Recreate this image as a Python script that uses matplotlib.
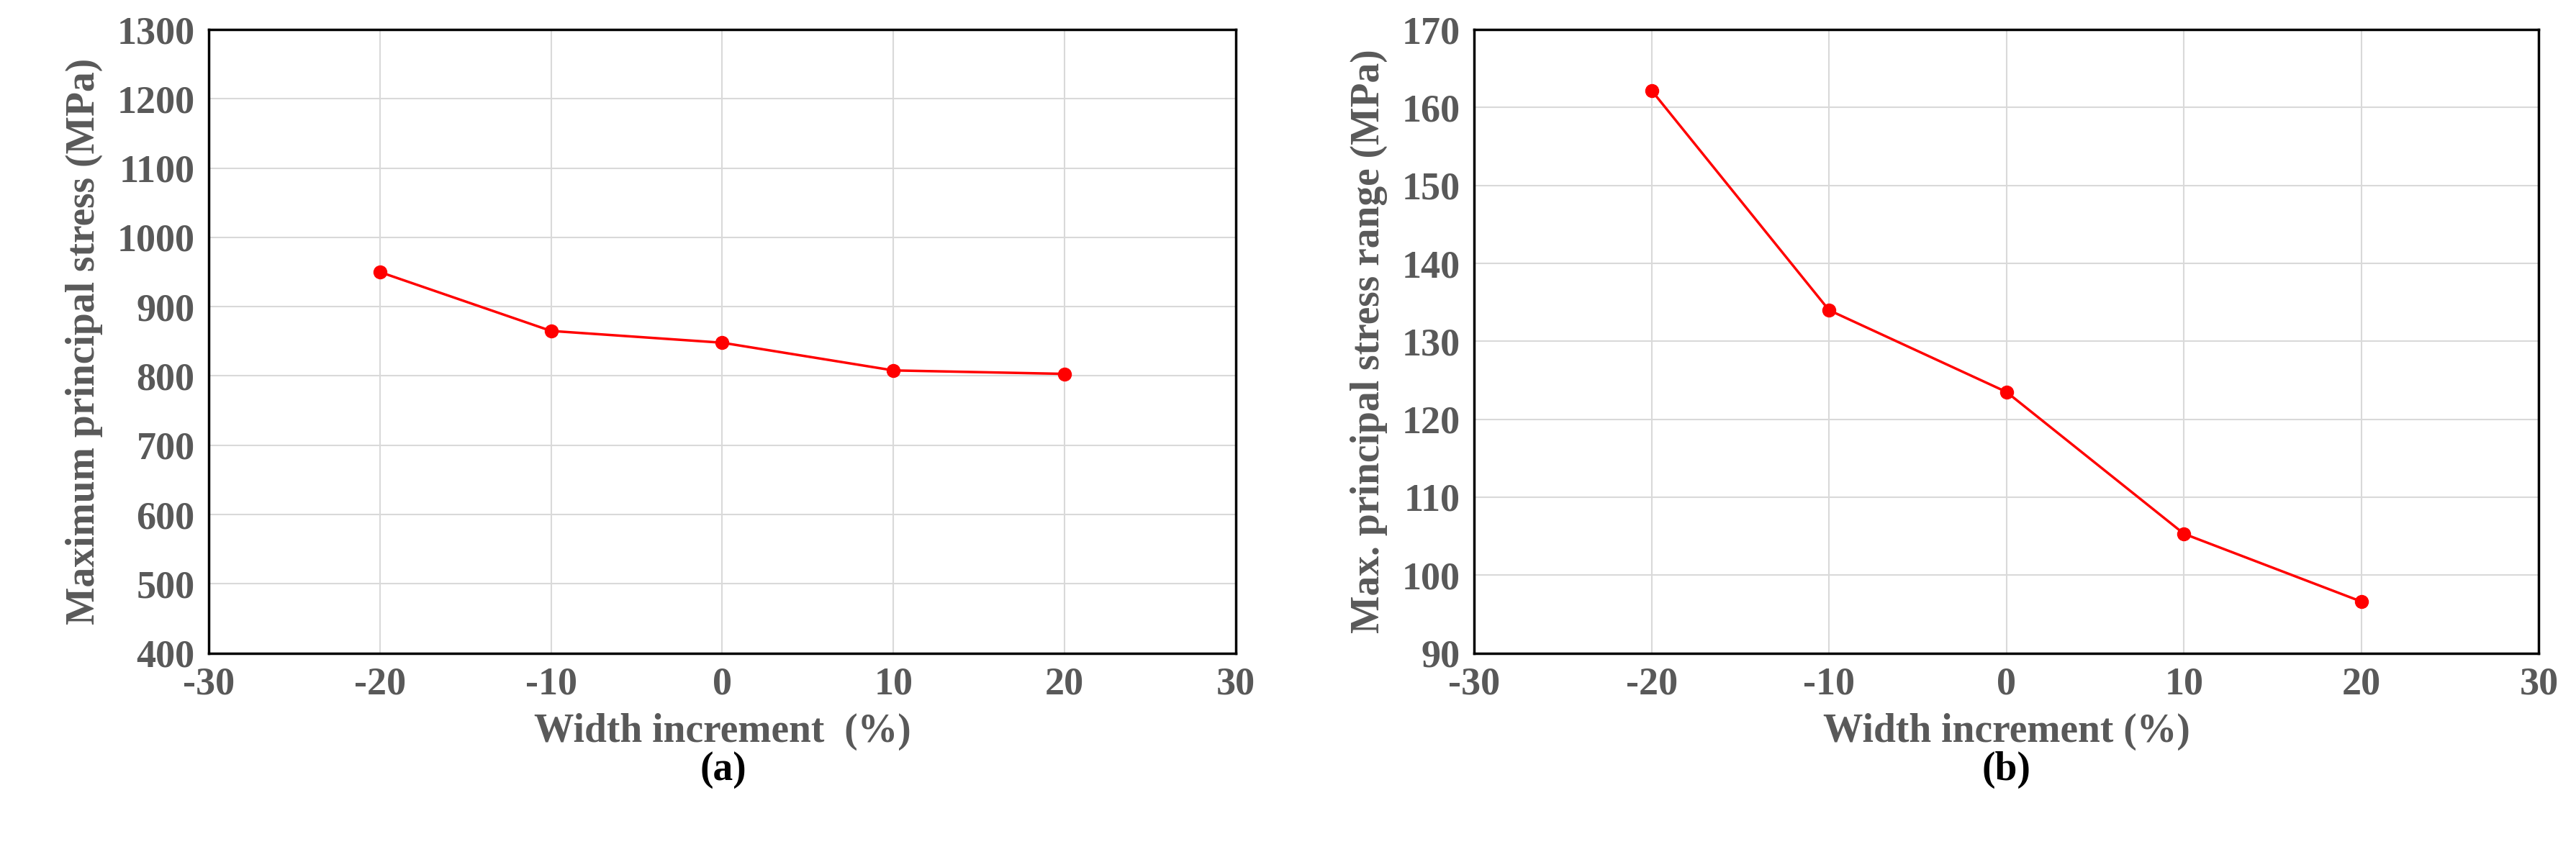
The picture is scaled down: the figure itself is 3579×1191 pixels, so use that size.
import matplotlib
matplotlib.use("Agg")
import matplotlib.pyplot as plt

x = [-20, -10, 0, 10, 20]
stress_max = [950, 865, 848, 808, 803]
stress_range = [162.2, 134.0, 123.5, 105.3, 96.6]
xticks = [-30, -20, -10, 0, 10, 20, 30]

plt.rcParams['font.family'] = ['Liberation Serif', 'DejaVu Serif']
plt.rcParams['font.weight'] = 'bold'
plt.rcParams['axes.unicode_minus'] = False
gray = '#595959'

fig = plt.figure(figsize=(35.8, 11.91), dpi=100)
W, H = 1568, 521
axA = fig.add_axes([127/W, 1-397/H, (752-127)/W, (397-18)/H])
axB = fig.add_axes([897/W, 1-397/H, (1545-897)/W, (397-18)/H])

def style(ax, ylim, yticks, ylabel, xlabel, tag, xc):
    ax.set_xlim(-30, 30)
    ax.set_xticks(xticks)
    ax.set_ylim(*ylim)
    ax.set_yticks(yticks)
    ax.grid(True, color='#d9d9d9', linewidth=1.5)
    ax.set_axisbelow(True)
    for s in ax.spines.values():
        s.set_linewidth(2.5)
        s.set_color('black')
    ax.tick_params(labelsize=39, colors=gray, length=0, pad=14)
    for lab in ax.get_xticklabels() + ax.get_yticklabels():
        lab.set_fontweight('bold')
    ax.set_ylabel(ylabel, fontsize=40, color=gray, fontweight='bold', labelpad=14)
    ax.set_xlabel(xlabel, fontsize=40, color=gray, fontweight='bold', labelpad=10)
    fig.text(xc / W, 1 - 468 / H, tag, ha='center', va='center',
             fontsize=40, fontweight='bold', color='black')

axA.plot(x, stress_max, color='red', marker='o', markersize=13, linewidth=2.5)
style(axA, (400, 1300), range(400, 1301, 100), 'Maximum principal stress (MPa)',
      'Width increment  (%)', '(a)', 440)
axB.plot(x, stress_range, color='red', marker='o', markersize=13, linewidth=2.5)
style(axB, (90, 170), range(90, 171, 10), 'Max. principal stress range (MPa)',
      'Width increment (%)', '(b)', 1221)

fig.savefig('out.png', dpi=100)
